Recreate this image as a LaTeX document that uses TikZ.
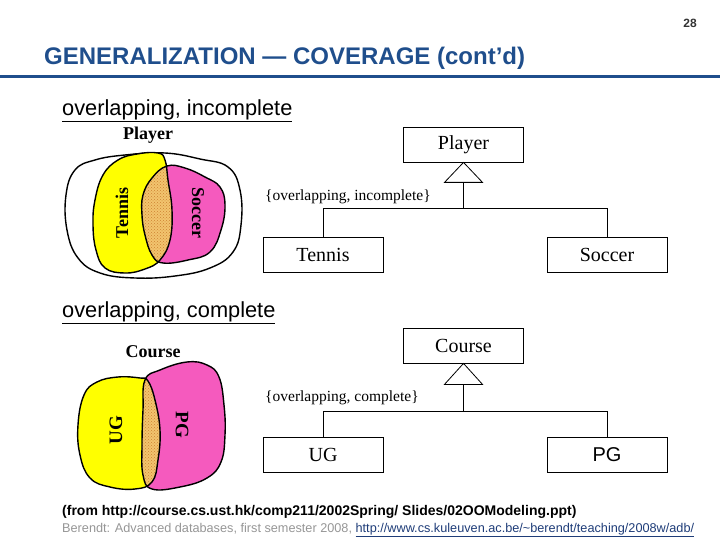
\documentclass[tikz,border=0pt]{standalone}
\usepackage{fontspec}
\setmainfont{Liberation Serif}
\setsansfont{Liberation Sans}
\usetikzlibrary{patterns}
\definecolor{titleblue}{RGB}{31,78,140}
\definecolor{linkblue}{RGB}{30,60,120}
\definecolor{notegray}{RGB}{150,150,150}
\definecolor{venyellow}{RGB}{255,255,0}
\definecolor{venpink}{RGB}{245,90,190}
\definecolor{lensfill}{RGB}{242,196,110}
\definecolor{lensdots}{RGB}{205,130,50}
\newcommand{\fs}[1]{\fontsize{#1}{#1}\selectfont}
% blobs of the two Venn pictures
\newcommand{\playerblob}{plot[smooth cycle,tension=0.7] coordinates {(66,195) (75,170) (95,160) (125,155) (165,153) (200,159) (228,167) (240,190) (241,225) (233,252) (210,268) (175,276) (135,278) (100,273) (78,258) (67,230)}}
\newcommand{\tennisblob}{plot[smooth cycle,tension=0.7] coordinates {(95,200) (103,175) (118,160) (137,154) (158,153) (165,160) (168,180) (172,210) (170,240) (160,260) (145,269) (125,273) (105,268) (96,250) (93,225)}}
\newcommand{\soccerblob}{plot[smooth cycle,tension=0.7] coordinates {(143,195) (152,178) (167,166) (185,168) (205,177) (220,187) (225,205) (221,230) (210,252) (188,260) (163,263) (152,255) (145,235) (142,215)}}
\newcommand{\ugblob}{plot[smooth cycle,tension=0.7] coordinates {(78,425) (84,395) (97,382) (118,377) (140,378) (148,381) (155,400) (160,430) (158,460) (152,482) (135,489) (110,487) (90,478) (80,455)}}
\newcommand{\pgblob}{plot[smooth cycle,tension=0.7] coordinates {(145,380) (160,370) (187,362) (207,365) (219,377) (224,405) (225,435) (221,462) (207,478) (180,487) (152,489) (143,475) (142,445) (143,410)}}
\tikzset{
  umlbox/.style={draw, line width=0.8pt, minimum width=120, minimum height=35, inner sep=0pt, font=\fs{20}},
  umlline/.style={line width=0.8pt},
  blobline/.style={line width=1.4pt, line join=round},
  lens/.style={pattern=crosshatch dots, pattern color=lensdots},
  vennlabel/.style={font=\bfseries\fs{18}},
  constraint/.style={anchor=west, inner sep=0pt, font=\fs{15.5}},
  heading/.style={anchor=west, inner sep=0pt, font=\sffamily\fs{21.8}}
}
\begin{document}
\begin{tikzpicture}[x=1pt,y=-1pt]
        \useasboundingbox (0,0) rectangle (720,540);
        % slide header
        \node [font=\sffamily\bfseries\fs{12}, text=black!80] (page) at (690,23) {28};
        \node [anchor=west, inner sep=0pt, font=\sffamily\bfseries\fs{24}, text=titleblue] (title) at (44,58) {GENERALIZATION — COVERAGE (cont’d)};
        \draw[line width=3pt, titleblue] (0,77) -- (720,77);
        \node [heading] (h1) at (62,111) {\underline{overlapping, incomplete}};
        \node [heading] (h2) at (62,313) {\underline{overlapping, complete}};
        % upper Venn picture
        \draw[blobline, fill=white] \playerblob;
        \fill[venyellow] \tennisblob;
        \fill[venpink] \soccerblob;
        \begin{scope}
          \clip \tennisblob;
          \fill[lensfill] \soccerblob;
          \fill[lens] \soccerblob;
        \end{scope}
        \draw[blobline] \tennisblob;
        \draw[blobline] \soccerblob;
        \node [vennlabel] (vplayer) at (148,135) {Player};
        \node [vennlabel, rotate=90] (vtennis) at (122,213) {Tennis};
        \node [vennlabel, rotate=-90] (vsoccer) at (198,213) {Soccer};
        % lower Venn picture
        \fill[venyellow] \ugblob;
        \fill[venpink] \pgblob;
        \begin{scope}
          \clip \ugblob;
          \fill[lensfill] \pgblob;
          \fill[lens] \pgblob;
        \end{scope}
        \draw[blobline] \ugblob;
        \draw[blobline] \pgblob;
        \node [vennlabel] (vcourse) at (153,352) {Course};
        \node [vennlabel, font=\bfseries\fs{19}, rotate=90] (vug) at (116,430) {UG};
        \node [vennlabel, font=\bfseries\fs{19}, rotate=-90] (vpg) at (182,425) {PG};
        % upper UML hierarchy
        \node [umlbox] (pl) at (463.5,144.5) {Player};
        \node [umlbox] (te) at (323,254.5) {Tennis};
        \node [umlbox] (so) at (607,254.5) {Soccer};
        \path (pl.south) ++(0,20) coordinate (plbase) ++(0,26) coordinate (pljoin);
        \draw[umlline, line join=miter] (pl.south) -- ++(-19,20) -- ++(38,0) -- cycle;
        \draw[umlline] (plbase) -- (pljoin);
        \draw[umlline] (te.north) |- (pljoin) -| (so.north);
        \node [constraint] (c1) at (265,197) {\{overlapping, incomplete\}};
        % lower UML hierarchy
        \node [umlbox] (co) at (463.5,345.5) {Course};
        \node [umlbox] (ug) at (323,455) {UG};
        \node [umlbox, font=\sffamily\fs{20}] (pg) at (607,455) {PG};
        \path (co.south) ++(0,21) coordinate (cobase) ++(0,27) coordinate (cojoin);
        \draw[umlline, line join=miter] (co.south) -- ++(-19,21) -- ++(38,0) -- cycle;
        \draw[umlline] (cobase) -- (cojoin);
        \draw[umlline] (ug.north) |- (cojoin) -| (pg.north);
        \node [constraint] (c2) at (265,398) {\{overlapping, complete\}};
        % footnotes
        \node [anchor=west, inner sep=0pt, font=\sffamily\bfseries\fs{14}] (src) at (62,512) {(from http://course.cs.ust.hk/comp211/2002Spring/ Slides/02OOModeling.ppt)};
        \node [anchor=west, inner sep=0pt, font=\sffamily\fs{12.7}, text=notegray] (cred) at (62,530) {Berendt: Advanced databases, first semester 2008, \textcolor{linkblue}{\underline{http://www.cs.kuleuven.ac.be/\textasciitilde berendt/teaching/2008w/adb/}}};
\end{tikzpicture}
\end{document}
